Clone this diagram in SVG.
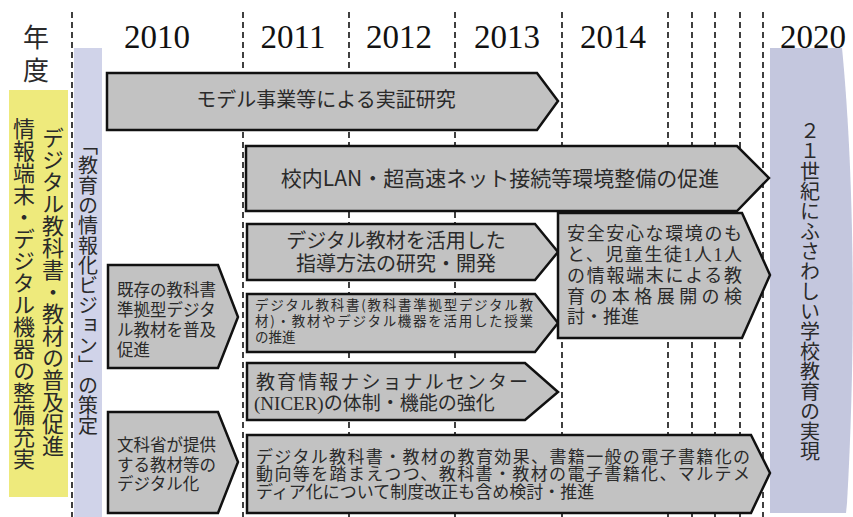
<svg xmlns="http://www.w3.org/2000/svg" width="853" height="517" viewBox="0 0 853 517">
<style>
.grid line{stroke:#111;stroke-width:1.6;stroke-dasharray:6 4}
.arrow{fill:#c2c2c2;stroke:#111;stroke-width:2.5;stroke-linejoin:miter}
.jp{font-family:"Noto Sans CJK JP","Noto Sans",sans-serif;fill:#2a2a2a}
.yr{font-family:"Liberation Serif",serif;font-size:33px;fill:#111;text-anchor:middle}
.vt{writing-mode:vertical-rl;font-family:"Noto Sans CJK JP",sans-serif;fill:#2a2a2a}
.ser{font-family:"Liberation Serif",serif}
</style>
<rect width="853" height="517" fill="#fff"/>
<g id="grid" class="grid">
<line x1="72" y1="12" x2="72" y2="517"/>
<line x1="243" y1="12" x2="243" y2="517"/>
<line x1="349" y1="12" x2="349" y2="517"/>
<line x1="455" y1="12" x2="455" y2="517"/>
<line x1="562" y1="12" x2="562" y2="517"/>
<line x1="668" y1="12" x2="668" y2="517"/>
<line x1="692" y1="12" x2="692" y2="517"/>
<line x1="715" y1="12" x2="715" y2="517"/>
<line x1="740" y1="12" x2="740" y2="517"/>
<line x1="763" y1="12" x2="763" y2="517"/>
</g>
<g id="header">
<text class="jp" x="36" y="47" font-size="26" text-anchor="middle">年</text>
<text class="jp" x="36" y="80" font-size="26" text-anchor="middle">度</text>
<text class="yr" x="157" y="48">2010</text>
<text class="yr" x="293" y="48">2011</text>
<text class="yr" x="399" y="48">2012</text>
<text class="yr" x="507" y="48">2013</text>
<text class="yr" x="613" y="48">2014</text>
<text class="yr" x="813" y="48">2020</text>
</g>
<g id="goal-left">
<rect x="9" y="90" width="59" height="407" fill="#eeea7c"/>
<text class="vt" x="24" y="118" font-size="22">情報端末・デジタル機器の整備充実</text>
<text class="vt" x="53" y="127" font-size="22">デジタル教科書・教材の普及促進</text>
</g>
<g id="vision">
<rect x="74" y="48" width="28" height="469" fill="#d0d3e9"/>
<text class="vt" x="88" y="135" font-size="20">「教育の情報化ビジョン」の策定</text>
</g>
<g id="goal-2020">
<path d="M770,48 L842,48 C853,160 857,330 847,503 L846,513 L770,513 Z" fill="#c4c7de"/>
<text class="vt" x="810" y="121" font-size="20">２１世紀にふさわしい学校教育の実現</text>
</g>
<g id="connectors"></g>
<g id="model">
<polygon class="arrow" points="107,73 537,73 558,101 537,130 107,130"/>
<text class="jp" x="326" y="107" font-size="20" text-anchor="middle">モデル事業等による実証研究</text>
</g>
<g id="lan">
<polygon class="arrow" points="246,146 737,146 769,178 737,211 246,211"/>
<text class="jp" x="500" y="186" font-size="21" text-anchor="middle">校内LAN・超高速ネット接続等環境整備の促進</text>
</g>
<g id="existing">
<polygon class="arrow" points="108,265 218,265 238,317 218,368 108,368"/>
<text class="jp" font-size="16.5"><tspan x="117" y="296">既存の教科書</tspan><tspan x="117" y="316">準拠型デジタ</tspan><tspan x="117" y="336">ル教材を普及</tspan><tspan x="117" y="356">促進</tspan></text>
</g>
<g id="mext">
<polygon class="arrow" points="108,412 218,412 238,462 218,513 108,513"/>
<text class="jp" font-size="16.5"><tspan x="117" y="451">文科省が提供</tspan><tspan x="117" y="471">する教材等の</tspan><tspan x="117" y="490">デジタル化</tspan></text>
</g>
<g id="method">
<polygon class="arrow" points="247,224 535,224 558,252 535,280 247,280"/>
<text class="jp" font-size="20" text-anchor="middle"><tspan x="396" y="248">デジタル教材を活用した</tspan><tspan x="396" y="271">指導方法の研究・開発</tspan></text>
</g>
<g id="class">
<polygon class="arrow" points="247,294 535,294 558,323 535,352 247,352"/>
<text class="jp" font-size="13.5"><tspan x="255" y="310" textLength="278" lengthAdjust="spacing">デジタル教科書(教科書準拠型デジタル教</tspan><tspan x="255" y="326" textLength="278" lengthAdjust="spacing">材)・教材やデジタル機器を活用した授業</tspan><tspan x="255" y="342">の推進</tspan></text>
</g>
<g id="nicer">
<polygon class="arrow" points="247,363 525,363 558,392 525,420 247,420"/>
<text class="jp" font-size="19"><tspan x="256" y="389" textLength="272" lengthAdjust="spacing">教育情報ナショナルセンター</tspan><tspan x="254" y="410"><tspan class="ser">(NICER)</tspan>の体制・機能の強化</tspan></text>
</g>
<g id="one2one">
<polygon class="arrow" points="558,213 742,213 770,275 742,338 558,338"/>
<text class="jp" font-size="18"><tspan x="567" y="240" textLength="175" lengthAdjust="spacing">安全安心な環境のも</tspan><tspan x="567" y="261" textLength="175" lengthAdjust="spacing">と、児童生徒<tspan class="ser">1</tspan>人<tspan class="ser">1</tspan>人</tspan><tspan x="567" y="282" textLength="175" lengthAdjust="spacing">の情報端末による教</tspan><tspan x="567" y="303" textLength="175" lengthAdjust="spacing">育の本格展開の検</tspan><tspan x="567" y="323">討・推進</tspan></text>
</g>
<g id="ebook">
<polygon class="arrow" points="247,435 751,435 770,473 751,513 247,513"/>
<text class="jp" font-size="17"><tspan x="256" y="463" textLength="494" lengthAdjust="spacing">デジタル教科書・教材の教育効果、書籍一般の電子書籍化の</tspan><tspan x="256" y="480" textLength="494" lengthAdjust="spacing">動向等を踏まえつつ、教科書・教材の電子書籍化、マルテメ</tspan><tspan x="256" y="498">ディア化について制度改正も含め検討・推進</tspan></text>
</g>
</svg>
